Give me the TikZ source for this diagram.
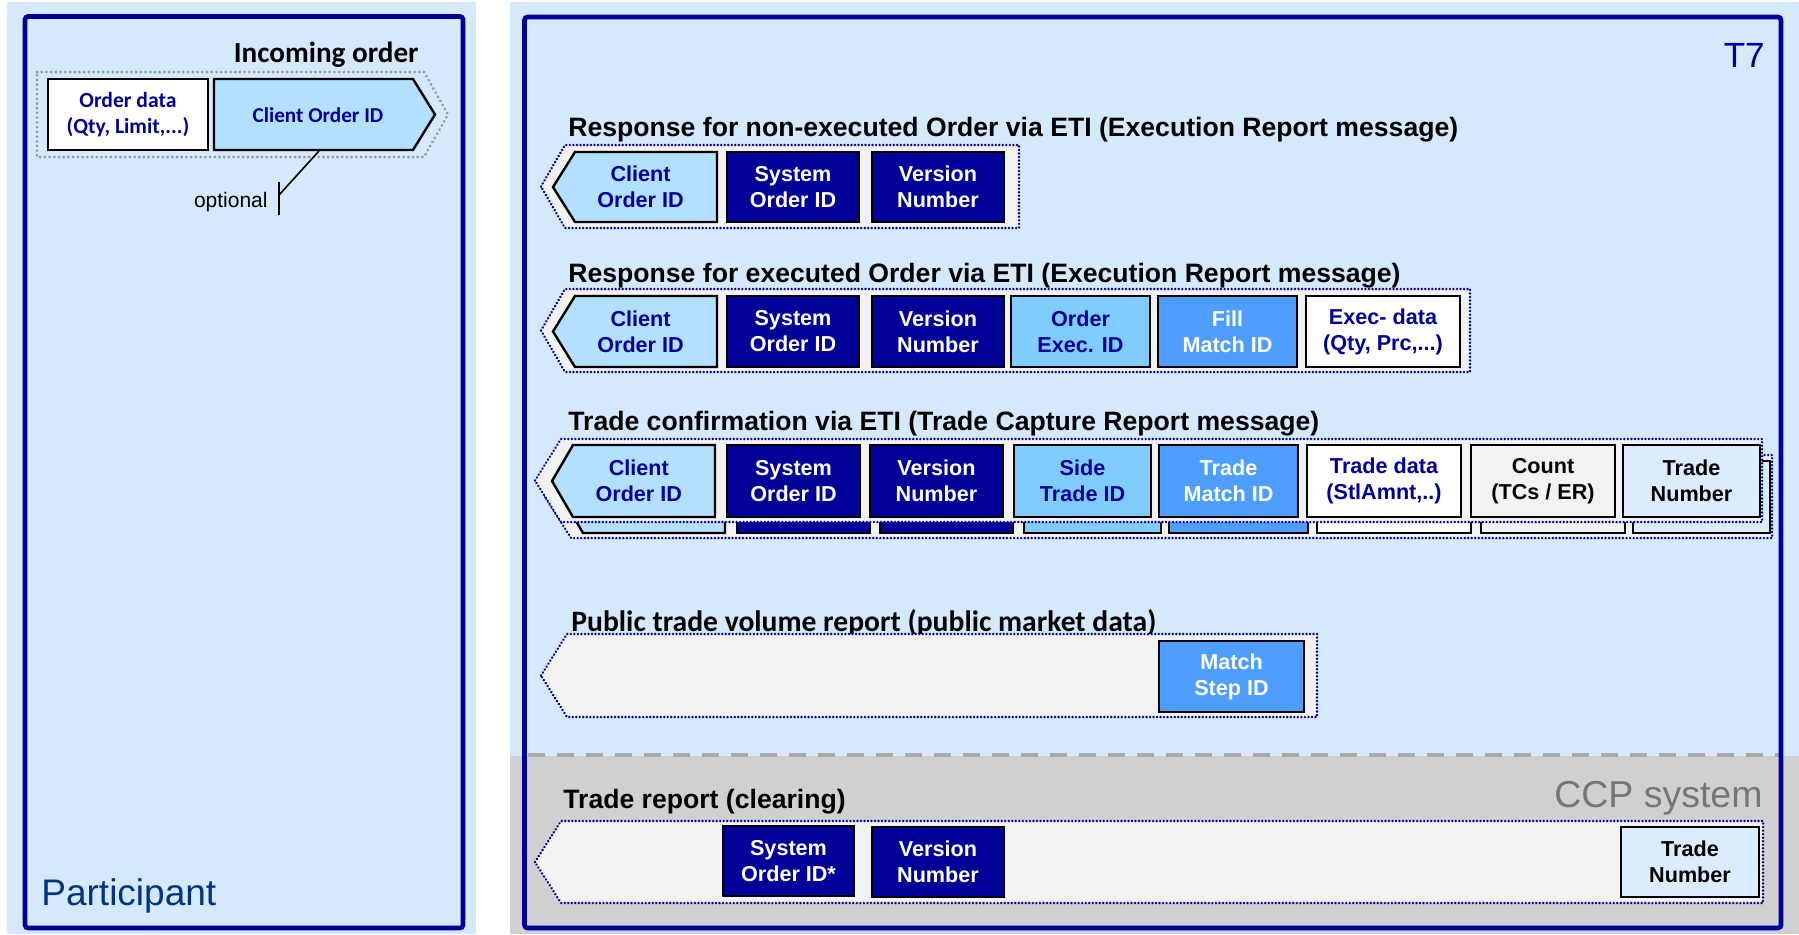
\documentclass[tikz,border=0pt]{standalone}
\usepackage{fontspec}
\setmainfont{Liberation Sans}
\newfontfamily\calfont{Carlito}
\definecolor{bgblue}{RGB}{213,233,253}
\definecolor{dblue}{RGB}{0,0,153}
\definecolor{ccpgray}{RGB}{208,208,208}
\definecolor{rowgray}{RGB}{242,242,242}
\definecolor{cliblue}{RGB}{179,224,255}
\definecolor{midblue}{RGB}{128,204,255}
\definecolor{brblue}{RGB}{77,158,255}
\definecolor{tnblue}{RGB}{220,236,255}
\definecolor{partcol}{RGB}{0,51,128}
\definecolor{dashgray}{RGB}{170,170,170}
\definecolor{outgray}{RGB}{150,150,150}
\definecolor{ccptext}{RGB}{118,118,118}
\tikzset{
  panel/.style={draw=dblue, line width=2.3pt, rounded corners=1.5pt},
  rowout/.style={draw=dblue, fill=rowgray, line width=1.35pt, dash pattern=on 0.01pt off 1.75pt, line cap=round},
  inout/.style={draw=outgray, line width=1.5pt, dash pattern=on 0.01pt off 2.35pt, line cap=round},
  fldbox/.style={draw=black, line width=1.2pt},
  fldtxt/.style={inner sep=0pt, align=center, font=\bfseries\fontsize{10.8}{13}\selectfont},
  caltxt/.style={inner sep=0pt, align=center, font=\calfont\bfseries\fontsize{10.8}{13.2}\selectfont, text=dblue},
  ttl/.style={inner sep=0pt, anchor=base west, font=\bfseries\fontsize{13.3}{15}\selectfont},
}
% rectangle field: name, x1,y1,x2,y2, fill, text colour, text
\newcommand\fld[8]{%
  \filldraw[fldbox,fill=#6] (#2,#3) rectangle (#4,#5);
  \node[fldtxt,text=#7] (#1) at ({(#2+#4)/2},{(#3+#5)/2}) {#8};}
% rectangle field without text (back copy)
\newcommand\fldb[5]{\filldraw[fldbox,fill=#5] (#1,#2) rectangle (#3,#4);}
% left-pointing pentagon: name, tip x, corner x, top, bottom, right, text
\newcommand\pentL[7]{%
  \filldraw[fldbox,fill=cliblue] (#2,{(#4+#5)/2}) -- (#3,#4) -- (#6,#4) -- (#6,#5) -- (#3,#5) -- cycle;
  \node[fldtxt,text=dblue] (#1) at ({((#2+#3)/2+#6)/2},{(#4+#5)/2}) {#7};}
% row outline: tip x, corner x, top, bottom, right
\newcommand\rowL[5]{%
  \path[rowout] (#1,{(#3+#4)/2}) -- (#2,#3) -- (#5,#3) -- (#5,#4) -- (#2,#4) -- cycle;}
\begin{document}
\begin{tikzpicture}[x=0.5pt,y=-0.5pt]
\useasboundingbox (0,0) rectangle (1799,934);
\fill[white] (0,0) rectangle (1799,934);
% backgrounds
\fill[bgblue] (7,2) rectangle (476,934);
\fill[bgblue] (510,2) rectangle (1799,934);
\fill[ccpgray] (510,756) rectangle (1799,934);
\draw[dashgray, line width=2pt, dash pattern=on 8.5pt off 6pt] (528,755) -- (1781,755);
% panels
\draw[panel] (25,16.5) rectangle (463,928);
\draw[panel] (524.5,17) rectangle (1781,928);

% ---------- Participant ----------
\node[inner sep=0pt, anchor=base east, font=\calfont\bfseries\fontsize{14.6}{16}\selectfont] (inc) at (419,62) {Incoming order};
\path[inout] (37,72) -- (424,72) -- (448,114.5) -- (424,157) -- (37,157) -- cycle;
\filldraw[fldbox,fill=white] (48,79) rectangle (208,150);
\node[caltxt] (odata) at (128,114.5) {Order data\\(Qty, Limit,...)};
\filldraw[fldbox,fill=cliblue] (214,79) -- (413,79) -- (435,114.5) -- (413,150) -- (214,150) -- cycle;
\node[caltxt, font=\calfont\bfseries\fontsize{10.6}{12}\selectfont] (pcoid) at (318,115) {Client Order ID};
\coordinate (optA) at (319,151);
\coordinate (optB) at (279,195);
\coordinate (optC) at (279,182);
\coordinate (optD) at (279,215);
\draw[line width=0.8pt] (optA) -- (optB);
\draw[line width=0.8pt] (optC) -- (optD);
\node[inner sep=0pt, anchor=east, font=\fontsize{10.5}{12}\selectfont] (opt) at (268,202) {optional};
\node[inner sep=0pt, anchor=base west, text=partcol, font=\fontsize{18.5}{20}\selectfont] (part) at (41,905) {Participant};

% ---------- T7 ----------
\node[inner sep=0pt, anchor=base east, text=dblue, font=\fontsize{17.5}{19}\selectfont] (t7) at (1765,67) {T7};
\node[inner sep=0pt, anchor=base east, text=ccptext, font=\fontsize{18.75}{20}\selectfont] (ccp) at (1763,807) {CCP system};

% Row 1
\node[ttl] (t1) at (568,136) {Response for non-executed Order via ETI (Execution Report message)};
\rowL{541}{565}{145}{228}{1019}
\pentL{r1c}{553}{575}{152}{222}{717}{Client\\Order ID}
\fld{r1s}{727}{152}{859}{222}{dblue}{white}{System\\Order ID}
\fld{r1v}{872}{152}{1004}{222}{dblue}{white}{Version\\Number}

% Row 2
\node[ttl] (t2) at (568,282) {Response for executed Order via ETI (Execution Report message)};
\rowL{541}{565}{289}{372}{1470}
\pentL{r2c}{553}{575}{296}{367}{717}{Client\\Order ID}
\fld{r2s}{727}{296}{859}{367}{dblue}{white}{System\\Order ID}
\fld{r2v}{872}{296}{1004}{367}{dblue}{white}{Version\\Number}
\fld{r2o}{1011}{296}{1150}{367}{midblue}{dblue}{Order\\Exec. ID}
\fld{r2f}{1158}{296}{1297}{367}{brblue}{white}{Fill\\Match ID}
\fld{r2e}{1306}{296}{1460}{367}{white}{dblue}{Exec- data\\(Qty, Prc,...)}

% Row 3 (stacked: back copy then front)
\node[ttl] (t3) at (568,430) {Trade confirmation via ETI (Trade Capture Report message)};
\rowL{545}{571}{455}{538}{1772}
\filldraw[fldbox,fill=cliblue] (562,497) -- (583,461) -- (725,461) -- (725,533) -- (583,533) -- cycle;
\fldb{737}{461}{870}{533}{dblue}
\fldb{880}{461}{1013}{533}{dblue}
\fldb{1024}{461}{1161}{533}{midblue}
\fldb{1169}{461}{1308}{533}{brblue}
\fldb{1317}{461}{1471}{533}{white}
\fldb{1481}{461}{1625}{533}{rowgray}
\fldb{1633}{461}{1770}{533}{tnblue}
\rowL{535}{561}{439}{522}{1762}
\pentL{r3c}{552}{573}{445}{517}{715}{Client\\Order ID}
\fld{r3s}{727}{445}{860}{517}{dblue}{white}{System\\Order ID}
\fld{r3v}{870}{445}{1003}{517}{dblue}{white}{Version\\Number}
\fld{r3d}{1014}{445}{1151}{517}{midblue}{dblue}{Side\\Trade ID}
\fld{r3m}{1159}{445}{1298}{517}{brblue}{white}{Trade\\Match ID}
\fld{r3t}{1307}{445}{1461}{517}{white}{dblue}{Trade data\\(StlAmnt,..)}
\fld{r3k}{1471}{445}{1615}{517}{rowgray}{black}{Count\\(TCs / ER)}
\fld{r3n}{1623}{445}{1760}{517}{tnblue}{black}{Trade\\Number}

% Row 4
\node[ttl, font=\calfont\bfseries\fontsize{14.8}{16}\selectfont] (t4) at (571,631) {Public trade volume report (public market data)};
\rowL{541}{567}{634}{717}{1317}
\fld{r4m}{1159}{641}{1304}{712}{brblue}{white}{Match\\Step ID}

% Row 5
\node[ttl] (t5) at (563,808) {Trade report (clearing)};
\rowL{535}{561}{821}{903}{1763}
\fld{r5s}{723}{826}{854}{896}{dblue}{white}{System\\Order ID*}
\fld{r5v}{872}{827}{1004}{897}{dblue}{white}{Version\\Number}
\fld{r5n}{1621}{827}{1759}{897}{tnblue}{black}{Trade\\Number}
\end{tikzpicture}
\end{document}
